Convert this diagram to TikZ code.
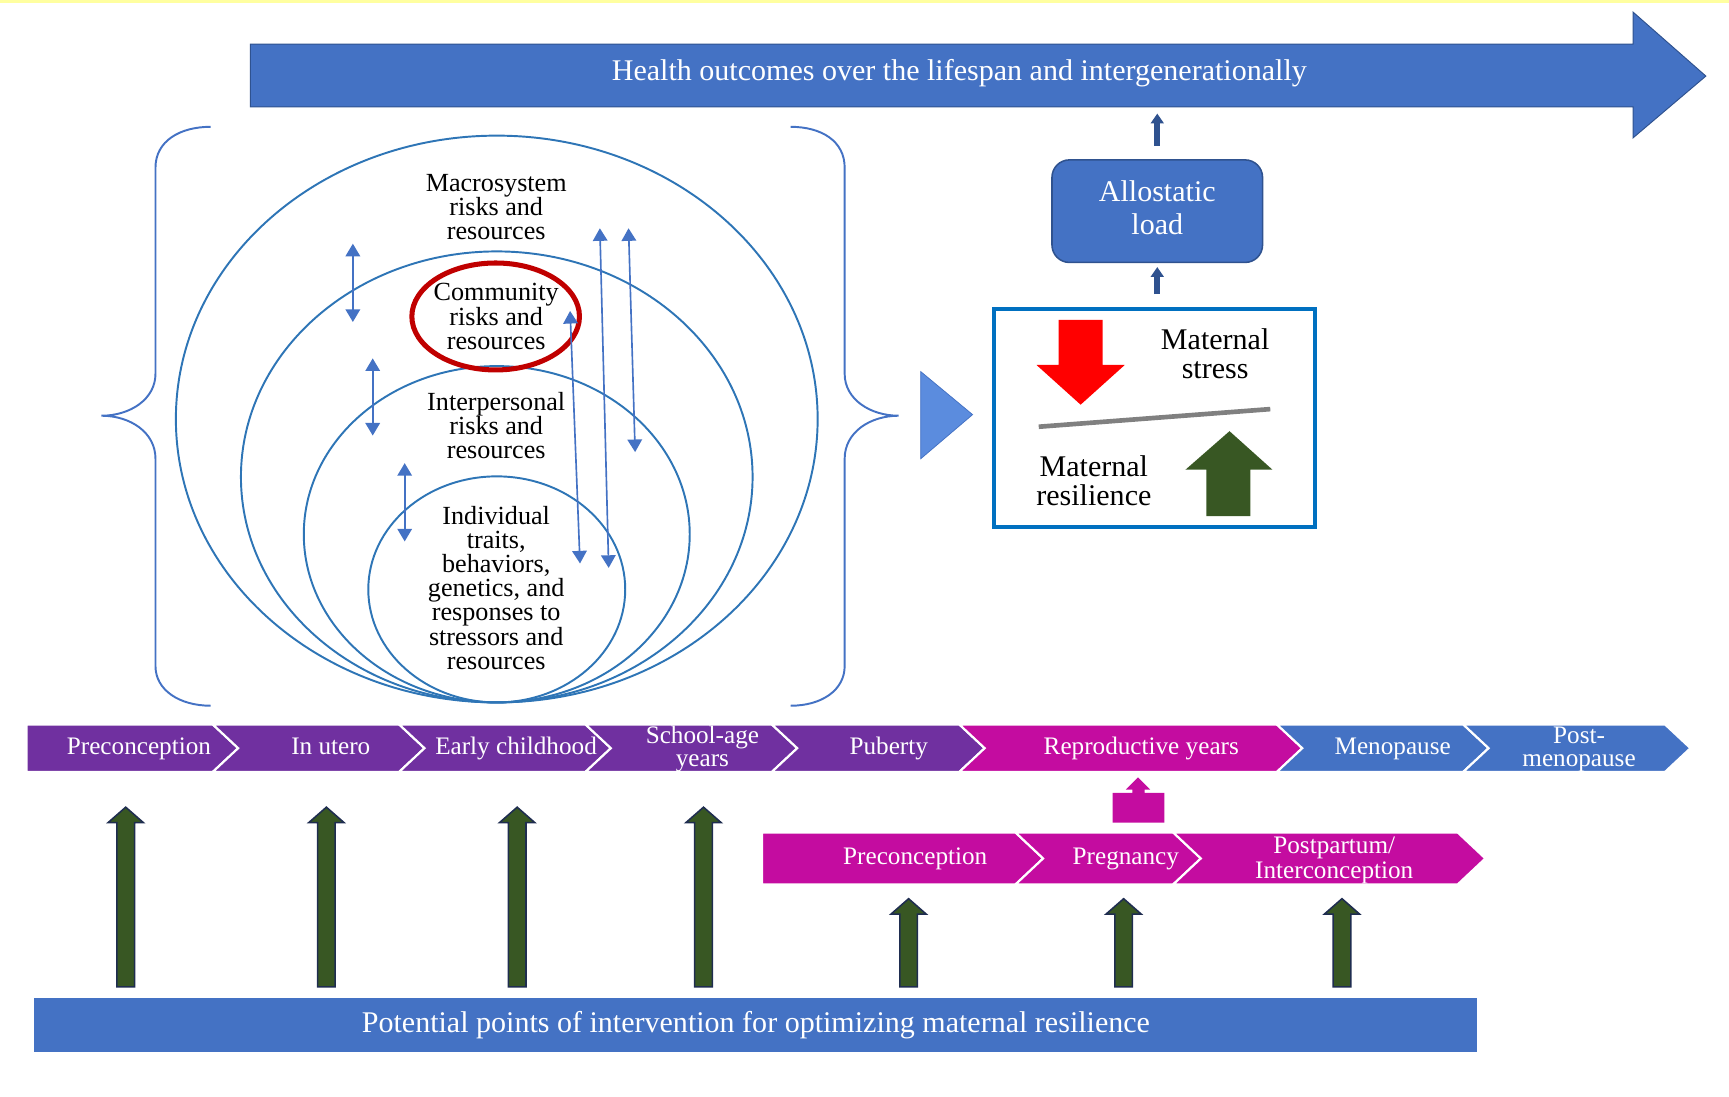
\documentclass[tikz,border=0pt]{standalone}
\usepackage{fontspec}
\setmainfont{Liberation Serif}
\usetikzlibrary{arrows.meta, positioning}

\definecolor{hdblue}{RGB}{68,114,196}
\definecolor{hdedge}{RGB}{47,82,143}
\definecolor{ringblue}{RGB}{46,117,182}
\definecolor{ringred}{RGB}{192,0,0}
\definecolor{boxblue}{RGB}{0,112,192}
\definecolor{lifepurple}{RGB}{112,48,160}
\definecolor{repromag}{RGB}{196,12,160}
\definecolor{leafgreen}{RGB}{56,87,35}
\definecolor{arrowedge}{RGB}{31,45,80}
\definecolor{stressred}{RGB}{255,0,0}
\definecolor{playblue}{RGB}{91,140,222}
\definecolor{paleyellow}{RGB}{255,255,160}

\tikzset{
  ringline/.style={draw=ringblue, line width=1pt},
  braceline/.style={draw=hdblue, line width=1pt},
  ringtxt/.style={align=center, inner sep=0pt, font=\fontsize{13.5}{12.5}\selectfont},
  dbl/.style={draw=hdblue, line width=0.85pt,
    {Triangle[length=6.5pt,width=7.5pt]}-{Triangle[length=6.5pt,width=7.5pt]}},
  upblue/.style={draw=hdedge, line width=3pt, -{Triangle[length=5pt,width=6.5pt]}},
  allobox/.style={fill=hdblue, draw=hdedge, line width=0.8pt, rounded corners=9pt,
    minimum width=3.82cm, minimum height=1.86cm},
  mattxt/.style={align=center, inner sep=0pt, font=\fontsize{15.5}{14.8}\selectfont},
  chev/.style={draw=white, line width=1.1pt, line join=miter},
  chevtxt/.style={text=white, align=center, inner sep=0pt, font=\fontsize{13}{12}\selectfont},
  chevone/.style={chevtxt, anchor=base},
  leaf/.style={fill=leafgreen, draw=arrowedge, line width=0.8pt},
  barbox/.style={fill=hdblue, text=white, inner sep=0pt, font=\fontsize{15.5}{18}\selectfont},
}

\begin{document}
\begin{tikzpicture}[x=0.02cm, y=-0.02cm]
  \useasboundingbox (0,0) rectangle (1568,994);
  \fill[paleyellow] (0,0) rectangle (1568,3);

  % health outcomes arrow
  \filldraw[fill=hdblue, draw=hdedge, line width=0.5pt] (227,40) -- (1481,40) -- (1481,11)
    -- (1547,69) -- (1481,125) -- (1481,97) -- (227,97) -- cycle;
  \node[text=white, font=\fontsize{15.5}{18}\selectfont] (health) at (870,66)
    {Health outcomes over the lifespan and intergenerationally};
  \coordinate (healthfoot) at (1049.5,103);

  % braces
  \draw[braceline] (191,115) .. controls (163,115) and (141,128) .. (141,152) -- (141,339)
    .. controls (141,362) and (118,377) .. (92,377)
    .. controls (118,377) and (141,392) .. (141,416) -- (141,604)
    .. controls (141,626) and (163,640) .. (191,640);
  \draw[braceline] (717,115) .. controls (745,115) and (766,128) .. (766,152) -- (766,339)
    .. controls (766,362) and (789,377) .. (815,377)
    .. controls (789,377) and (766,392) .. (766,416) -- (766,604)
    .. controls (766,626) and (745,640) .. (717,640);

  % nested layers
  \draw[ringline] (450.5,380) ellipse [x radius=291, y radius=257];
  \draw[ringline] (450.5,432.5) ellipse [x radius=232, y radius=204.5];
  \draw[ringline] (450.5,484.5) ellipse [x radius=175, y radius=152.5];
  \draw[ringline] (450.5,534.5) ellipse [x radius=116.5, y radius=102.5];
  \draw[ringred, line width=2.6pt] (449.5,287) ellipse [x radius=76, y radius=48.5];

  \node[ringtxt] (macro) at (450,188) {Macrosystem\\risks and\\resources};
  \node[ringtxt] (comm) at (450,287) {Community\\risks and\\resources};
  \node[ringtxt] (inter) at (450,386) {Interpersonal\\risks and\\resources};
  \node[ringtxt] (indiv) at (450,533) {Individual\\traits,\\behaviors,\\genetics, and\\responses to\\stressors and\\resources};

  % two-way arrows between layers
  \foreach \n/\xa/\ya/\xb/\yb in {a/320/221/320/292, b/338/325/338/395, c/367/420/367/491,
      d/544/207/552/515, e/570/207/576/410, f/517/282/526/511}{
    \coordinate (top\n) at (\xa,\ya);
    \coordinate (bot\n) at (\xb,\yb);
    \draw[dbl] (top\n) -- (bot\n);
  }

  % pointer into the balance
  \filldraw[fill=playblue, draw=hdblue, line width=0.4pt] (835,337) -- (882,376) -- (835,416) -- cycle;

  % stress / resilience balance
  \node[draw=boxblue, line width=2pt, minimum width=5.82cm, minimum height=3.96cm, inner sep=0pt] (mbox) at (1047,379) {};
  \fill[stressred] (960,290) -- (1000,290) -- (1000,331) -- (1020,331) -- (980,367) -- (940,331) -- (960,331) -- cycle;
  \fill[leafgreen] (1094,468) -- (1094,426) -- (1075,426) -- (1115,391) -- (1154,426) -- (1134,426) -- (1134,468) -- cycle;
  \draw[gray, line width=2.4pt] (942,387) -- (1152,371);
  \node[mattxt] (stress) at (1102,321) {Maternal\\stress};
  \node[mattxt] (resil) at (992,436) {Maternal\\resilience};

  % allostatic load
  \node[allobox] (allo) at (1049.5,191.5) {};
  \node[text=white, align=center, inner sep=0pt, font=\fontsize{15.5}{17}\selectfont] (allotxt) at (1049.5,188) {Allostatic\\load};
  \draw[upblue, shorten <=6.5pt, shorten >=2pt] (mbox.north -| allo.south) -- (allo.south);
  \draw[upblue, shorten <=7pt] (allo.north) -- (healthfoot);

  % life course chevrons
  \filldraw[chev, fill=lifepurple] (24,657) -- (193,657) -- (216,678.5) -- (193,700) -- (24,700) -- cycle;
  \foreach \a/\b/\c in {193/362/lifepurple, 362/531/lifepurple, 531/700/lifepurple,
      700/870/lifepurple, 870/1158/repromag, 1158/1327/hdblue, 1327/1510/hdblue}{
    \filldraw[chev, fill=\c] (\a,657) -- (\b,657) -- ({\b+23},678.5) -- (\b,700)
      -- (\a,700) -- ({\a+23},678.5) -- cycle;
  }
  \node[chevone] (pre) at (126,684) {Preconception};
  \node[chevone] (utero) at (300,684) {In utero};
  \node[chevone] (early) at (468,684) {Early childhood};
  \node[chevtxt] (school) at (637,679) {School-age\\years};
  \node[chevone] (puberty) at (806,684) {Puberty};
  \node[chevone] (repro) at (1035,684) {Reproductive years};
  \node[chevone] (meno) at (1263,684) {Menopause};
  \node[chevtxt] (postmeno) at (1432,679.5) {Post-\\menopause};

  % reproductive years in detail
  \fill[repromag] (1009,746) -- (1009,719) -- (1027,719) -- (1027,716) -- (1021,716) -- (1032,705)
    -- (1043,716) -- (1038,716) -- (1038,719) -- (1056,719) -- (1056,746) -- cycle;
  \filldraw[chev, fill=repromag] (691,755) -- (921,755) -- (946,778.5) -- (921,802) -- (691,802) -- cycle;
  \foreach \a/\b in {921/1064, 1064/1322}{
    \filldraw[chev, fill=repromag] (\a,755) -- (\b,755) -- ({\b+25},778.5) -- (\b,802)
      -- (\a,802) -- ({\a+25},778.5) -- cycle;
  }
  \node[chevone] (precon) at (830,784) {Preconception};
  \node[chevone] (preg) at (1021,784) {Pregnancy};
  \node[chevtxt, font=\fontsize{13}{13}\selectfont] (postpart) at (1210,780) {Postpartum/\\Interconception};

  % intervention arrows
  \foreach \x/\t in {114/732, 296/732, 469/732, 638/732, 824/815, 1019/815, 1217/815}{
    \filldraw[leaf] ({\x-8},895) -- ({\x-8},{\t+14}) -- ({\x-16},{\t+14}) -- (\x,\t)
      -- ({\x+16},{\t+14}) -- ({\x+8},{\t+14}) -- ({\x+8},895) -- cycle;
  }

  % intervention bar
  \node[barbox, minimum width=26.18cm, minimum height=0.98cm] (interv) at (685.5,929.5)
    {Potential points of intervention for optimizing maternal resilience};
\end{tikzpicture}
\end{document}
